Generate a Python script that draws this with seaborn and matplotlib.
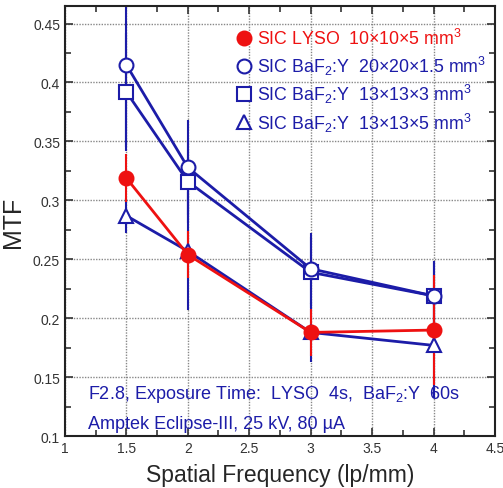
import numpy as np
import pandas as pd
import matplotlib
matplotlib.use("Agg")
import matplotlib.pyplot as plt
import seaborn as sns
from matplotlib.ticker import MultipleLocator

# --- data ---
freq = [1.5, 2.0, 3.0, 4.0]
lyso = [0.319, 0.254, 0.188, 0.190]
baf_20 = [0.415, 0.328, 0.242, 0.219]
baf_13x3 = [0.392, 0.316, 0.239, 0.219]
baf_13x5 = [0.287, 0.257, 0.188, 0.177]

lyso_err = [0.020, 0.020, 0.020, 0.047]
baf_20_err = [0.070, 0.040, 0.030, 0.030]
baf_13x3_err = [0.050, 0.035, 0.030, 0.030]
baf_13x5_err = [0.015, 0.050, 0.025, 0.045]

labels = [
    r"SIC LYSO  10$\times$10$\times$5 mm$^3$",
    r"SIC BaF$_2$:Y  20$\times$20$\times$1.5 mm$^3$",
    r"SIC BaF$_2$:Y  13$\times$13$\times$3 mm$^3$",
    r"SIC BaF$_2$:Y  13$\times$13$\times$5 mm$^3$",
]

red = "#ee1111"
blue = "#1c1ca8"

df = pd.DataFrame({
    "freq": freq * 4,
    "mtf": lyso + baf_20 + baf_13x3 + baf_13x5,
    "err": lyso_err + baf_20_err + baf_13x3_err + baf_13x5_err,
    "series": sum([[l] * len(freq) for l in labels], []),
})

sns.set_style("ticks")
plt.rcParams["font.family"] = ["Liberation Sans", "DejaVu Sans"]
plt.rcParams["mathtext.fontset"] = "custom"
plt.rcParams["mathtext.rm"] = "Liberation Sans"
plt.rcParams["mathtext.it"] = "Liberation Sans"

fig = plt.figure(figsize=(5.03, 4.89), dpi=100)
ax = fig.add_axes([0.129, 0.106, 0.855, 0.880])

styles = {
    labels[0]: dict(color=red, marker="o", mfc=red),
    labels[1]: dict(color=blue, marker="o", mfc="white"),
    labels[2]: dict(color=blue, marker="s", mfc="white"),
    labels[3]: dict(color=blue, marker="^", mfc="white"),
}

# error bars first, then lines with markers on top
for name in labels[::-1]:
    sub = df[df["series"] == name]
    ax.errorbar(sub["freq"], sub["mtf"], yerr=sub["err"], fmt="none",
                ecolor=styles[name]["color"], elinewidth=1.5, capsize=0, zorder=2)

for name in labels[::-1]:
    sub = df[df["series"] == name]
    st = styles[name]
    sns.lineplot(data=sub, x="freq", y="mtf", ax=ax, color=st["color"],
                 marker=st["marker"], markersize=10, markerfacecolor=st["mfc"],
                 markeredgecolor=st["color"], markeredgewidth=1.5,
                 linewidth=2, label=name, zorder=3)

ax.set_xlim(1, 4.5)
ax.set_ylim(0.1, 0.465)
ax.xaxis.set_major_locator(MultipleLocator(0.5))
ax.xaxis.set_minor_locator(MultipleLocator(0.25))
ax.yaxis.set_major_locator(MultipleLocator(0.05))
ax.yaxis.set_minor_locator(MultipleLocator(0.025))
ax.set_xticklabels([("%g" % t) for t in ax.get_xticks()])
ax.set_yticklabels([("%g" % t) for t in ax.get_yticks()])
ax.tick_params(which="both", direction="in", top=True, right=True,
               labelsize=10, colors="#333333", width=1.2)
ax.tick_params(which="major", length=6)
ax.tick_params(which="minor", length=4)
ax.grid(True, which="major", linestyle=(0, (1, 1)), color="#888888", linewidth=1)
for sp in ax.spines.values():
    sp.set_linewidth(1.5)
    sp.set_color("#222222")

ax.set_xlabel("Spatial Frequency (lp/mm)", fontsize=16.5, labelpad=6)
ax.set_ylabel("MTF", fontsize=18, labelpad=6)

handles, hlabels = ax.get_legend_handles_labels()
order = [hlabels.index(l) for l in labels]
leg = ax.legend([handles[i] for i in order], [hlabels[i] for i in order],
                loc="upper right", frameon=False, fontsize=12.8,
                handlelength=0.6, handletextpad=0.45, labelspacing=0.3,
                bbox_to_anchor=(1.017, 0.985))
for h in leg.legend_handles:
    h.set_linestyle("none")
for txt, l in zip(leg.get_texts(), labels):
    txt.set_color(red if l == labels[0] else blue)

ax.text(1.19, 0.136, r"F2.8, Exposure Time:  LYSO  4s,  BaF$_2$:Y  60s",
        color=blue, fontsize=13, va="center")
ax.text(1.19, 0.111, "Amptek Eclipse-III, 25 kV, 80 µA",
        color=blue, fontsize=13, va="center")

fig.savefig("out.png", dpi=100)
